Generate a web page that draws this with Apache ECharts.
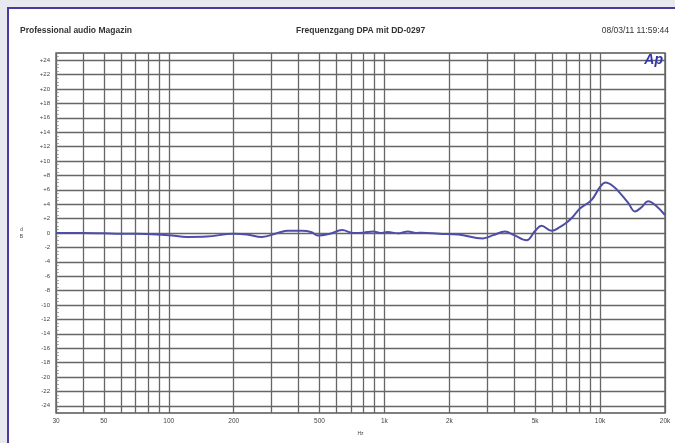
<!DOCTYPE html>
<html>
<head>
<meta charset="utf-8">
<script src="https://cdn.jsdelivr.net/npm/echarts@6/dist/echarts.min.js"></script>
<style>html,body{margin:0;padding:0;background:#e8e8ef;}#c{width:675px;height:443px;}</style>
</head>
<body>
<div id="c"></div>
<script>
// Frequency response data (Hz, dB)
const freqs = [30,40,50,60,70,80,100,122,150,200,230,270,320,357,415,460,491,560,636,720,800,886,960,1037,1150,1286,1400,1492,1800,2200,2860,3200,3620,4000,4560,5000,5350,5960,6500,7000,7500,8070,9140,10000,10600,11500,12400,13500,14500,15600,16700,18000,20000];
const levels = [0,0,-0.05,-0.1,-0.1,-0.15,-0.3,-0.55,-0.5,-0.1,-0.2,-0.55,0.0,0.3,0.3,0.1,-0.35,-0.1,0.4,0.0,0.05,0.2,0.0,0.15,-0.05,0.2,0.0,0.05,-0.1,-0.2,-0.75,-0.3,0.2,-0.3,-1.0,0.3,1.0,0.3,0.8,1.45,2.3,3.4,4.6,6.4,7.0,6.5,5.5,4.2,3.0,3.6,4.4,3.9,2.5];
const xGridValues = [30,40,50,60,70,80,90,100,200,300,400,500,600,700,800,900,1000,2000,3000,4000,5000,6000,7000,8000,9000,10000,20000];
const xLabelValues = [30,50,100,200,500,1000,2000,5000,10000,20000];
const yLabelValues = [-24,-22,-20,-18,-16,-14,-12,-10,-8,-6,-4,-2,0,2,4,6,8,10,12,14,16,18,20,22,24];
const headerLeft = 'Professional audio Magazin';
const headerTitle = 'Frequenzgang DPA mit DD-0297';
const headerDate = '08/03/11 11:59:44';

const chart = echarts.init(document.getElementById('c'), null, {renderer:'canvas'});
const gridCol = '#666';
const txtCol = '#444';
const font = 'Liberation Sans, Arial, sans-serif';
const hdr = {fontSize:8.5, fontWeight:'bold', color:'#333', fontFamily:font};
chart.setOption({
  backgroundColor: '#e8e8ef',
  animation: false,
  graphic: [
    {type:'rect', left:7, top:7, shape:{width:700, height:460}, style:{fill:'#fff', stroke:'#4b3a9c', lineWidth:2}, z:-10},
    {type:'text', right:12, top:53, style:{text:'Ap', fill:'#3434a8', font:'italic bold 14px Liberation Sans, Arial'}, z:100}
  ],
  title: [
    {text: headerLeft, left:15, top:21, textStyle:hdr},
    {text: headerTitle, left:291, top:21, textStyle:hdr},
    {text: headerDate, right:1, top:21, textStyle:{fontSize:8.5, fontWeight:'normal', color:'#333', fontFamily:font}}
  ],
  grid: {left:56, top:53, width:609, height:360, show:true, borderColor:'#555', borderWidth:1.3, backgroundColor:'transparent'},
  xAxis: {
    type:'log', logBase:10, min:30, max:20000,
    name:'Hz', nameLocation:'middle', nameGap:18,
    nameTextStyle:{fontSize:5, color:txtCol, fontFamily:font},
    axisLine:{show:false},
    axisTick:{show:true, customValues:xGridValues, length:0},
    axisLabel:{show:true, customValues:xLabelValues, fontSize:6.5, color:txtCol, fontFamily:font, margin:5,
      formatter:function(v){ return v>=1000 ? (v/1000)+'k' : String(v); }},
    splitLine:{show:true, lineStyle:{color:gridCol, width:1.3}},
    minorSplitLine:{show:false}
  },
  yAxis: [{
    type:'value', min:-25, max:25,
    name:'d\nB', nameLocation:'middle', nameGap:33, nameRotate:0,
    nameTextStyle:{fontSize:5, color:txtCol, fontFamily:font, lineHeight:7},
    axisLine:{show:false},
    axisTick:{show:true, customValues:yLabelValues, length:0},
    axisLabel:{show:true, customValues:yLabelValues, fontSize:6, color:txtCol, fontFamily:font, margin:6,
      formatter:function(v){ return v>0 ? '+'+v : String(v); }},
    splitLine:{show:true, lineStyle:{color:gridCol, width:1.3}}
  },{
    type:'value', min:-25, max:25, interval:0.5, position:'left',
    axisLine:{show:false},
    axisTick:{show:true, inside:true, length:3, lineStyle:{color:'#777', width:0.6}},
    axisLabel:{show:false},
    splitLine:{show:false}
  }],
  series: [{
    type:'line', smooth:0.4, showSymbol:false, symbol:'none',
    data: freqs.map(function(f,i){ return [f, levels[i]]; }),
    lineStyle:{color:'#4e4ea8', width:2},
    z:10
  }]
});
</script>
</body>
</html>
